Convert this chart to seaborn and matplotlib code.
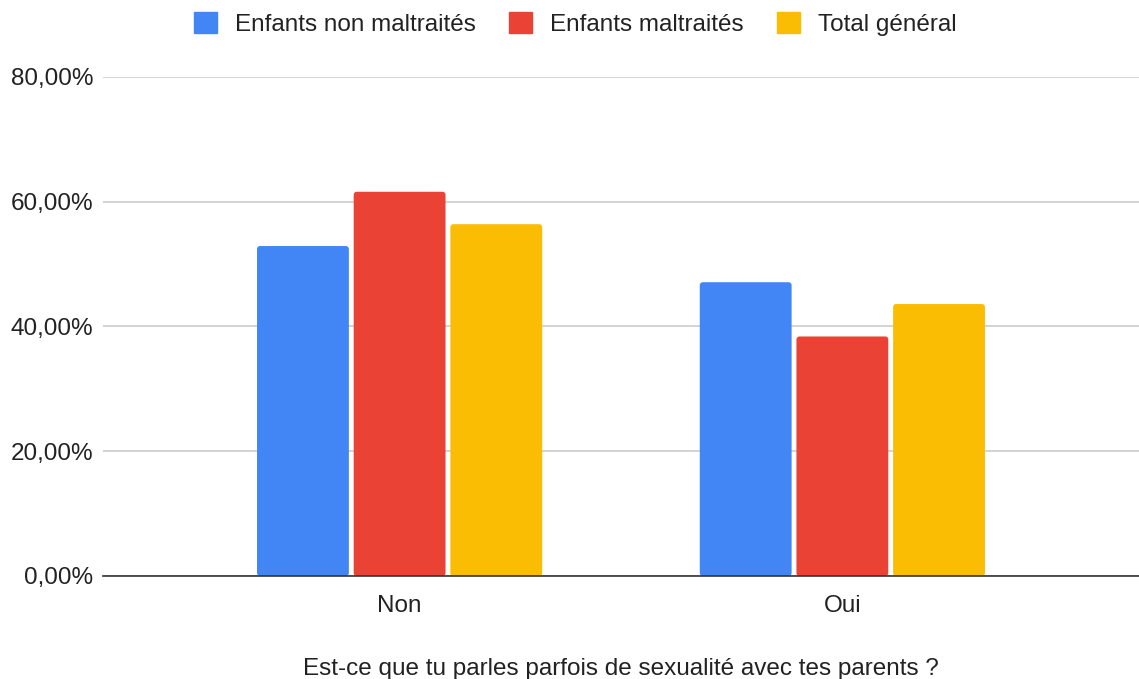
import matplotlib
matplotlib.use("Agg")
import matplotlib.pyplot as plt
import seaborn as sns
import pandas as pd
from matplotlib.ticker import FuncFormatter
from matplotlib.patches import Patch, FancyBboxPatch

categories = ["Non", "Oui"]
series = ["Enfants non maltraités", "Enfants maltraités", "Total général"]
non_maltraites = [52.9, 47.1]
maltraites = [61.6, 38.4]
total = [56.4, 43.6]
colors = ["#4285F4", "#EA4335", "#FBBC04"]
yticks = [0, 20, 40, 60, 80]
xlabel = "Est-ce que tu parles parfois de sexualité avec tes parents ?"

rows = []
for s, vals in zip(series, [non_maltraites, maltraites, total]):
    for c, v in zip(categories, vals):
        rows.append({"cat": c, "serie": s, "val": v})
df = pd.DataFrame(rows)

sns.set_theme(style="white")
plt.rcParams["font.family"] = ["Liberation Sans", "DejaVu Sans"]

fig = plt.figure(figsize=(11.39, 6.79), dpi=100)
ax = fig.add_axes([0.0904, 0.1517, 0.9096, 0.7349])

sns.barplot(data=df, x="cat", y="val", hue="serie", order=categories,
            hue_order=series, palette=colors, width=0.655, gap=0.05,
            saturation=1, ax=ax, legend=False)

ax.set_xlim(-0.67, 1.67)
ax.set_ylim(0, 80)

# rounded corners on bars
px_x = 1036 / (1.67 + 0.67)
px_y = 499 / 80
r_px = 3.0
for p in list(ax.patches):
    x, y = p.get_x(), p.get_y()
    w, h = p.get_width(), p.get_height()
    fc = p.get_facecolor()
    p.remove()
    fb = FancyBboxPatch((x, y), w, h,
                        boxstyle=f"round,pad=0,rounding_size={r_px/px_x}",
                        mutation_aspect=(r_px / px_y) / (r_px / px_x),
                        facecolor=fc, edgecolor="none", zorder=2)
    ax.add_patch(fb)

ax.set_yticks(yticks)
ax.yaxis.set_major_formatter(FuncFormatter(lambda v, p: f"{v:.2f}%".replace(".", ",")))
ax.grid(axis="y", color="#cccccc", linewidth=1.2, zorder=0)
ax.set_axisbelow(True)
for sp in ["top", "right", "left"]:
    ax.spines[sp].set_visible(False)
ax.spines["bottom"].set_color("#333333")
ax.spines["bottom"].set_linewidth(1.2)
ax.spines["bottom"].set_zorder(3)
ax.tick_params(axis="both", length=0, labelsize=17.5, colors="#222222", pad=7)
ax.tick_params(axis="x", pad=14)
ax.set_ylabel("")
ax.set_xlabel(xlabel, fontsize=17.5, color="#222222", labelpad=29)

handles = [Patch(facecolor=c, edgecolor=c) for c in colors]
fig.legend(handles, series, loc="upper center", bbox_to_anchor=(0.505, 1.014),
           ncol=3, frameon=False, fontsize=17.5, handlelength=0.95, handleheight=0.95,
           columnspacing=1.36, handletextpad=0.75, labelcolor="#222222")

fig.savefig("out.png", dpi=100)
